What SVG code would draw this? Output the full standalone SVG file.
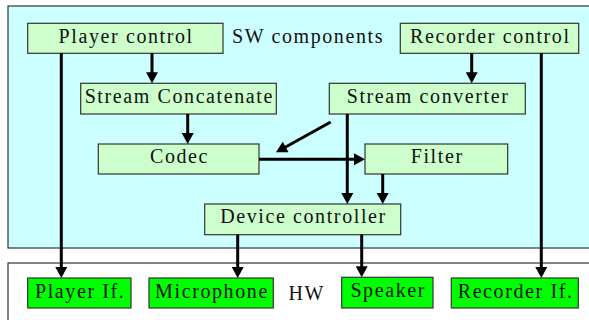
<svg xmlns="http://www.w3.org/2000/svg" width="589" height="320" viewBox="0 0 589 320" font-family="Liberation Serif, DejaVu Serif, serif">
<defs>
<style>
.region{stroke:#333;stroke-width:1.2}
.sw{fill:#CCFFCC;stroke:#333;stroke-width:1.2}
.hw{fill:#00FF00;stroke:#333;stroke-width:1.2}
text{font-size:20px;letter-spacing:1.6px;fill:#111}
.c{text-anchor:middle}
.conn line{stroke:#000;stroke-width:3;marker-end:url(#ah)}
</style>
<marker id="ah" markerUnits="userSpaceOnUse" markerWidth="12" markerHeight="12" refX="1" refY="6" orient="auto" viewBox="0 0 11 12">
<path d="M0,0 L11,6 L0,12 z" fill="#000"/>
</marker>
</defs>
<rect width="589" height="320" fill="#fff"/>
<g id="sw-region">
<rect class="region" x="8" y="6" width="590" height="242" fill="#CCFFFF"/>
<text x="232" y="43">SW components</text>
</g>
<g id="hw-region">
<rect class="region" x="8" y="263" width="590" height="70" fill="#fff"/>
<text x="288.5" y="300">HW</text>
</g>
<g id="player-control"><rect class="sw" x="27.7" y="23.3" width="195.3" height="30"/><text class="c" x="126.2" y="42.7">Player control</text></g>
<g id="recorder-control"><rect class="sw" x="400.3" y="23.3" width="178.4" height="30"/><text class="c" x="490.3" y="42.7">Recorder control</text></g>
<g id="stream-concatenate"><rect class="sw" x="80.7" y="83.3" width="195.6" height="30.7"/><text class="c" x="179.3" y="102.7">Stream Concatenate</text></g>
<g id="stream-converter"><rect class="sw" x="329.3" y="83.3" width="196" height="30.7"/><text class="c" x="428.1" y="102.7">Stream converter</text></g>
<g id="codec"><rect class="sw" x="98.3" y="144" width="160.7" height="30"/><text class="c" x="179.5" y="163.3">Codec</text></g>
<g id="filter"><rect class="sw" x="365" y="144" width="142.7" height="30"/><text class="c" x="437.2" y="163.3">Filter</text></g>
<g id="device-controller"><rect class="sw" x="204.7" y="204" width="196" height="30.7"/><text class="c" x="303.5" y="223.3">Device controller</text></g>
<g id="player-if"><rect class="hw" x="27.7" y="278" width="103.3" height="30"/><text class="c" x="80.2" y="297.5">Player If.</text></g>
<g id="microphone"><rect class="hw" x="149" y="278" width="124.3" height="30"/><text class="c" x="212" y="297.5">Microphone</text></g>
<g id="speaker"><rect class="hw" x="341.7" y="277.3" width="91.3" height="30.7"/><text class="c" x="388.2" y="297">Speaker</text></g>
<g id="recorder-if"><rect class="hw" x="451.3" y="278" width="127" height="30"/><text class="c" x="515.6" y="297.5">Recorder If.</text></g>
<g id="connectors" class="conn">
<line x1="61.3" y1="53.3" x2="61.3" y2="268"/>
<line x1="152" y1="53.3" x2="152" y2="73.3"/>
<line x1="187.7" y1="114" x2="187.7" y2="134"/>
<line x1="471.7" y1="53.3" x2="471.7" y2="73.3"/>
<line x1="541.3" y1="53.3" x2="541.3" y2="268"/>
<line x1="347.3" y1="114" x2="347.3" y2="194"/>
<line x1="330.7" y1="122" x2="284.75" y2="147.45"/>
<line x1="259" y1="159.3" x2="355" y2="159.3"/>
<line x1="382.7" y1="174" x2="382.7" y2="194"/>
<line x1="237.7" y1="234.7" x2="237.7" y2="268"/>
<line x1="361.7" y1="234.7" x2="361.7" y2="267.3"/>
</g>
</svg>
